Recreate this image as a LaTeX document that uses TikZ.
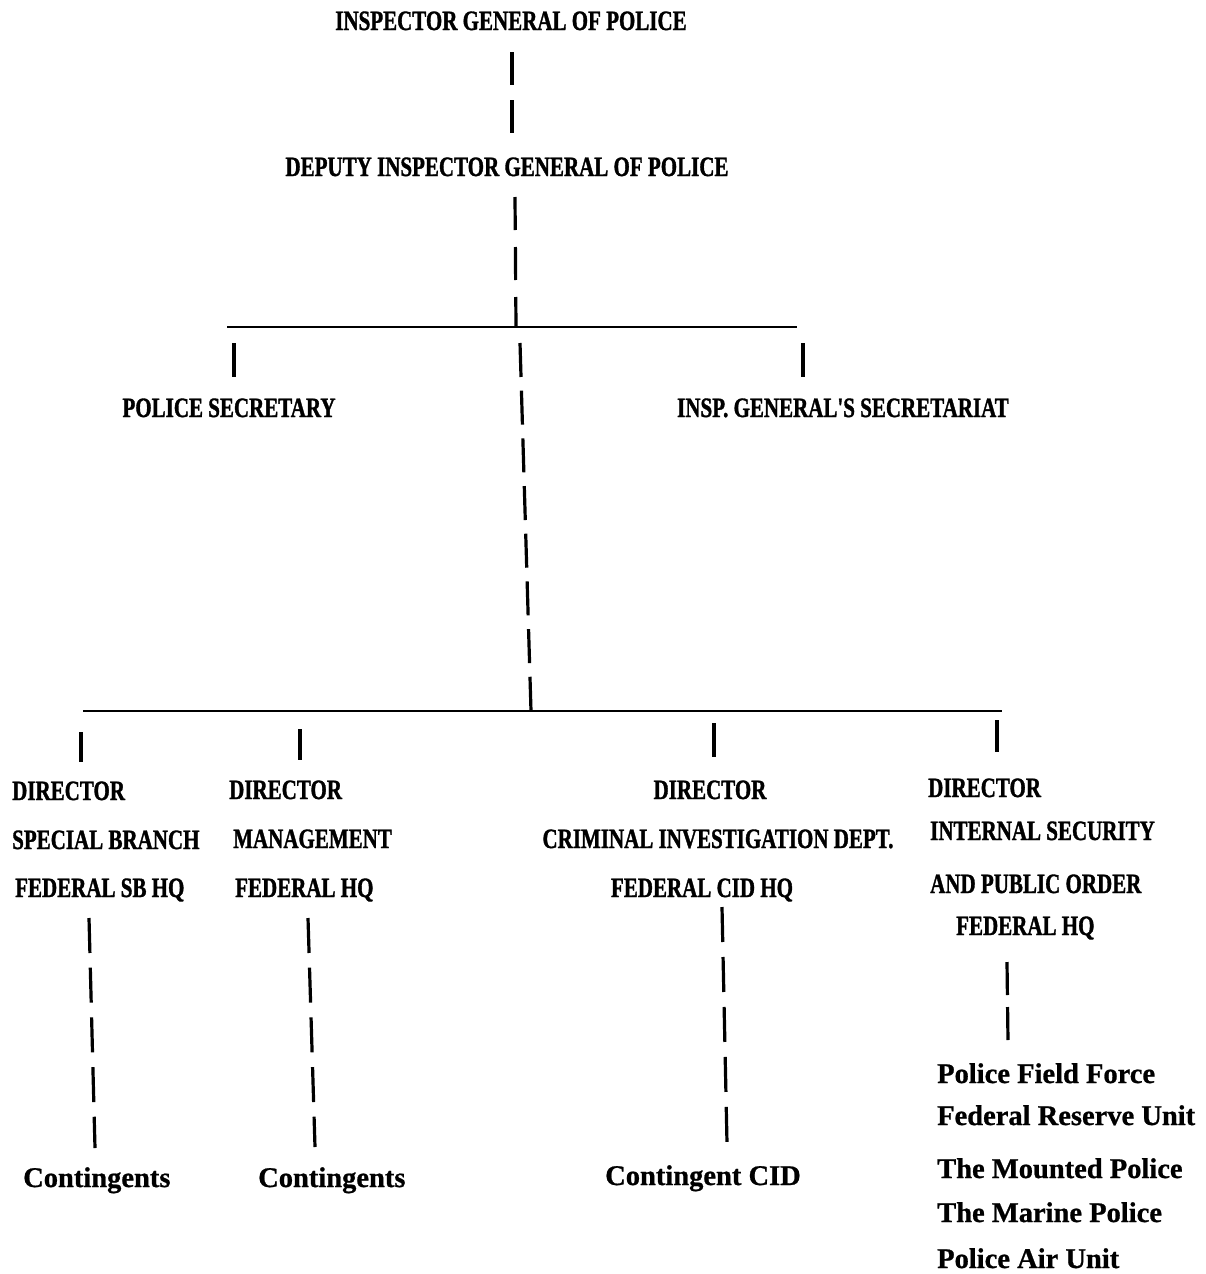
\documentclass[tikz,border=0pt]{standalone}
\usepackage{fontspec}
\setmainfont{Liberation Serif}
\newfontfamily\hdfont{Liberation Serif}[FakeStretch=0.75,FakeBold=1.2]
\newfontfamily\lcfont{Liberation Serif}[FakeBold=0.8]
\begin{document}
\begin{tikzpicture}[x=1pt,y=-1pt,
  hd/.style={inner sep=0pt,font=\hdfont\bfseries\fontsize{28}{32}\selectfont},
  lc/.style={inner sep=0pt,font=\lcfont\bfseries\fontsize{28.5}{34}\selectfont},
  bar/.style={line width=2.8pt},
  drop/.style={line width=3.2pt},
  dashA/.style={line width=3.2pt,dash pattern=on 33pt off 15pt},
  dashB/.style={line width=3.2pt,dash pattern=on 33pt off 17pt},
  dashC/.style={line width=3.2pt,dash pattern=on 34pt off 13.7pt},
  dashD/.style={line width=3.2pt,dash pattern=on 35pt off 14.7pt},
  dashE/.style={line width=3.2pt,dash pattern=on 35pt off 15pt},
  dashF/.style={line width=3.2pt,dash pattern=on 33pt off 12pt}]
\useasboundingbox (0,0) rectangle (1206,1274);

% top of the hierarchy
\node[hd,anchor=base] (igp) at (511,30) {INSPECTOR GENERAL OF POLICE};
\node[hd,anchor=base] (digp) at (507,176) {DEPUTY INSPECTOR GENERAL OF POLICE};

% secretariat level
\node[hd,anchor=base] (psec) at (229,417) {POLICE SECRETARY};
\node[hd,anchor=base] (igsec) at (843,417) {INSP. GENERAL'S SECRETARIAT};

% directors
\node[hd,anchor=base west] (sb1) at (12,800) {DIRECTOR};
\node[hd,anchor=base west] (sb2) at (12,849) {SPECIAL BRANCH};
\node[hd,anchor=base west] (sb3) at (15,897) {FEDERAL SB HQ};

\node[hd,anchor=base west] (mg1) at (229,799) {DIRECTOR};
\node[hd,anchor=base west] (mg2) at (233,848) {MANAGEMENT};
\node[hd,anchor=base west] (mg3) at (235,897) {FEDERAL HQ};

\node[hd,anchor=base] (cid1) at (710,799) {DIRECTOR};
\node[hd,anchor=base] (cid2) at (718,848) {CRIMINAL INVESTIGATION DEPT.};
\node[hd,anchor=base] (cid3) at (702,897) {FEDERAL CID HQ};

\node[hd,anchor=base west] (isp1) at (928,797) {DIRECTOR};
\node[hd,anchor=base west] (isp2) at (930,840) {INTERNAL SECURITY};
\node[hd,anchor=base west] (isp3) at (930,893) {AND PUBLIC ORDER};
\node[hd,anchor=base west] (isp4) at (956,935) {FEDERAL HQ};

% field units
\node[lc,anchor=base west] (con1) at (23,1187) {Contingents};
\node[lc,anchor=base west] (con2) at (258,1187) {Contingents};
\node[lc,anchor=base west] (con3) at (605,1185) {Contingent CID};

\node[lc,anchor=base west] (u1) at (937,1083) {Police Field Force};
\node[lc,anchor=base west] (u2) at (937,1125) {Federal Reserve Unit};
\node[lc,anchor=base west] (u3) at (937,1178) {The Mounted Police};
\node[lc,anchor=base west] (u4) at (937,1222) {The Marine Police};
\node[lc,anchor=base west] (u5) at (937,1268) {Police Air Unit};

% connector end points
\coordinate (igpB) at (512,52);
\coordinate (digpT) at (512,133);
\coordinate (digpB) at (515,197);
\coordinate (j1) at (516,327);
\coordinate (b1L) at (227,327);
\coordinate (b1R) at (797,327);
\coordinate (psecT1) at (234,343);
\coordinate (psecT2) at (234,377);
\coordinate (igsT1) at (803,343);
\coordinate (igsT2) at (803,377);
\coordinate (cT) at (520,343);
\coordinate (j2) at (531,711);
\coordinate (b2L) at (83,711);
\coordinate (b2R) at (1002,711);
\coordinate (sbT1) at (81,732);
\coordinate (sbT2) at (81,762);
\coordinate (mgT1) at (300,729);
\coordinate (mgT2) at (300,760);
\coordinate (cidT1) at (714,723);
\coordinate (cidT2) at (714,757);
\coordinate (ispT1) at (997,720);
\coordinate (ispT2) at (997,752);
\coordinate (sbB) at (89,918);
\coordinate (con1T) at (95,1148);
\coordinate (mgB) at (308,918);
\coordinate (con2T) at (315,1147);
\coordinate (cidB) at (722,907);
\coordinate (con3T) at (727,1143);
\coordinate (ispB) at (1007,962);
\coordinate (u1T) at (1008,1041);

% connectors
\draw[dashA] (igpB) -- (digpT);
\draw[dashB] (digpB) -- (j1);
\draw[bar] (b1L) -- (b1R);
\draw[drop] (psecT1) -- (psecT2);
\draw[drop] (igsT1) -- (igsT2);
\draw[dashC] (cT) -- (j2);
\draw[bar] (b2L) -- (b2R);
\draw[drop] (sbT1) -- (sbT2);
\draw[drop] (mgT1) -- (mgT2);
\draw[drop] (cidT1) -- (cidT2);
\draw[drop] (ispT1) -- (ispT2);
\draw[dashD] (sbB) -- (con1T);
\draw[dashD] (mgB) -- (con2T);
\draw[dashE] (cidB) -- (con3T);
\draw[dashF] (ispB) -- (u1T);
\end{tikzpicture}
\end{document}
